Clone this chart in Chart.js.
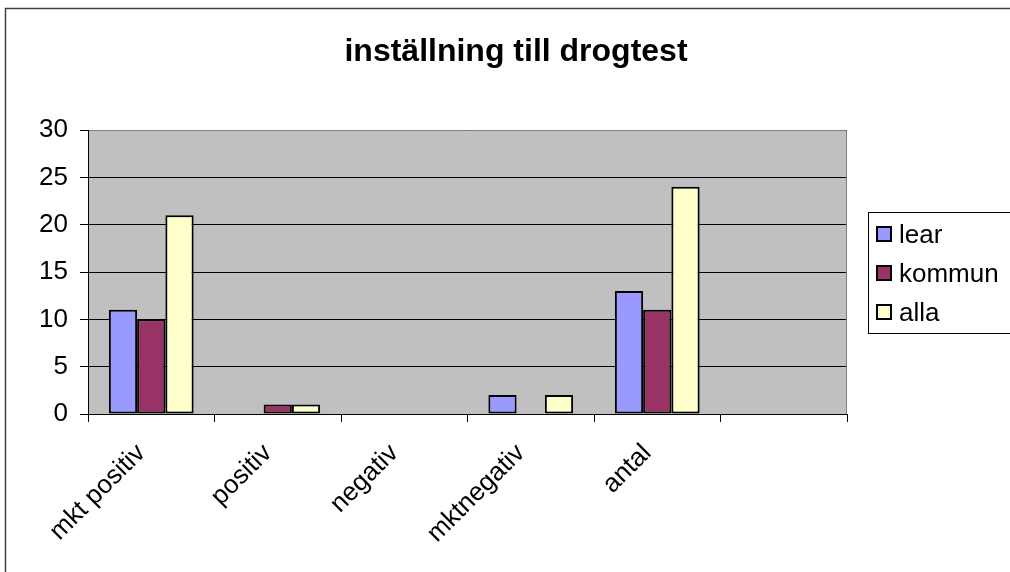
<!DOCTYPE html>
<html>
<head>
<meta charset="utf-8">
<script src="https://cdn.jsdelivr.net/npm/chart.js@4"></script>
<style>
  html, body { margin: 0; padding: 0; background: #fff; }
  canvas { display: block; }
</style>
</head>
<body>
<canvas id="c" width="1010" height="572"></canvas>
<script>
const categories = ["mkt positiv", "positiv", "negativ", "mktnegativ", "antal", ""];
const lear = [11, 0, 0, 2, 13, null];
const kommun = [10, 1, 0, 0, 11, null];
const alla = [21, 1, 0, 2, 24, null];
const seriesNames = ["lear", "kommun", "alla"];
const seriesColors = ["#9999FF", "#993366", "#FFFFCC"];
const yTicks = [0, 5, 10, 15, 20, 25, 30];
const titleText = "inställning till drogtest";

const FONT = "'Liberation Sans', Arial, sans-serif";

const framePlugin = {
  id: 'frame',
  beforeDraw(chart) {
    const ctx = chart.ctx, a = chart.chartArea;
    ctx.save();
    ctx.fillStyle = '#fff';
    ctx.fillRect(0, 0, chart.width, chart.height);
    ctx.strokeStyle = '#404040';
    ctx.lineWidth = 1.5;
    ctx.beginPath();
    ctx.moveTo(5.5, chart.height);
    ctx.lineTo(5.5, 8.5);
    ctx.lineTo(chart.width, 8.5);
    ctx.stroke();
    ctx.fillStyle = '#C0C0C0';
    ctx.fillRect(a.left, a.top, a.right - a.left, a.bottom - a.top);
    ctx.restore();
  },
  afterDraw(chart) {
    const ctx = chart.ctx, a = chart.chartArea;
    ctx.save();
    ctx.strokeStyle = '#808080';
    ctx.lineWidth = 1;
    ctx.beginPath();
    ctx.moveTo(a.left, a.top + 0.5);
    ctx.lineTo(a.right - 0.5, a.top + 0.5);
    ctx.lineTo(a.right - 0.5, a.bottom);
    ctx.stroke();
    ctx.strokeStyle = '#000';
    ctx.beginPath();
    ctx.moveTo(a.left + 0.5, a.top);
    ctx.lineTo(a.left + 0.5, a.bottom + 0.5);
    ctx.lineTo(a.right, a.bottom + 0.5);
    ctx.stroke();
    // title
    ctx.fillStyle = '#000';
    ctx.font = "bold 32px " + FONT;
    ctx.textAlign = 'center';
    ctx.textBaseline = 'alphabetic';
    ctx.fillText(titleText, 516, 61);
    // legend
    const lx = 868, ly = 212, lw = 150, lh = 121;
    ctx.strokeStyle = '#000';
    ctx.lineWidth = 1;
    ctx.strokeRect(lx + 0.5, ly + 0.5, lw, lh);
    ctx.font = "26px " + FONT;
    ctx.textAlign = 'left';
    ctx.textBaseline = 'alphabetic';
    const ys = [234, 273, 312];
    chart.data.datasets.forEach((ds, i) => {
      ctx.fillStyle = ds.backgroundColor;
      ctx.fillRect(877, ys[i] - 7, 14, 14);
      ctx.lineWidth = 2;
      ctx.strokeStyle = '#000';
      ctx.strokeRect(877, ys[i] - 7, 14, 14);
      ctx.fillStyle = '#000';
      ctx.fillText(ds.label, 899, ys[i] + 9);
    });
    ctx.restore();
  }
};

const datasets = [lear, kommun, alla].map((d, i) => ({
  label: seriesNames[i],
  data: d,
  backgroundColor: seriesColors[i],
  borderColor: '#000',
  borderWidth: 2,
  borderSkipped: false,
  categoryPercentage: 0.67,
  barPercentage: 1.0
}));

new Chart(document.getElementById('c'), {
  type: 'bar',
  data: { labels: categories, datasets },
  plugins: [framePlugin],
  options: {
    responsive: false,
    animation: false,
    events: [],
    layout: { padding: { top: 130, right: 163, left: 0, bottom: 0 } },
    plugins: { legend: { display: false }, title: { display: false }, tooltip: { enabled: false } },
    scales: {
      x: {
        afterFit(s) { s.height = 158; },
        grid: { offset: true, drawOnChartArea: false, tickLength: 8, color: '#000', lineWidth: 1 },
        border: { display: true, color: '#000' },
        ticks: {
          color: '#000', font: { family: FONT, size: 26 },
          minRotation: 45, maxRotation: 45, autoSkip: false, padding: 16, labelOffset: -10
        }
      },
      y: {
        min: 0, max: 30,
        afterFit(s) { s.width = 88; },
        afterBuildTicks(s) { s.ticks = yTicks.map(v => ({ value: v })); },
        grid: { color: '#000', lineWidth: 1, tickLength: 8, drawTicks: true },
        border: { display: true, color: '#000' },
        ticks: { color: '#000', font: { family: FONT, size: 26 }, padding: 12 }
      }
    }
  }
});
</script>
</body>
</html>
